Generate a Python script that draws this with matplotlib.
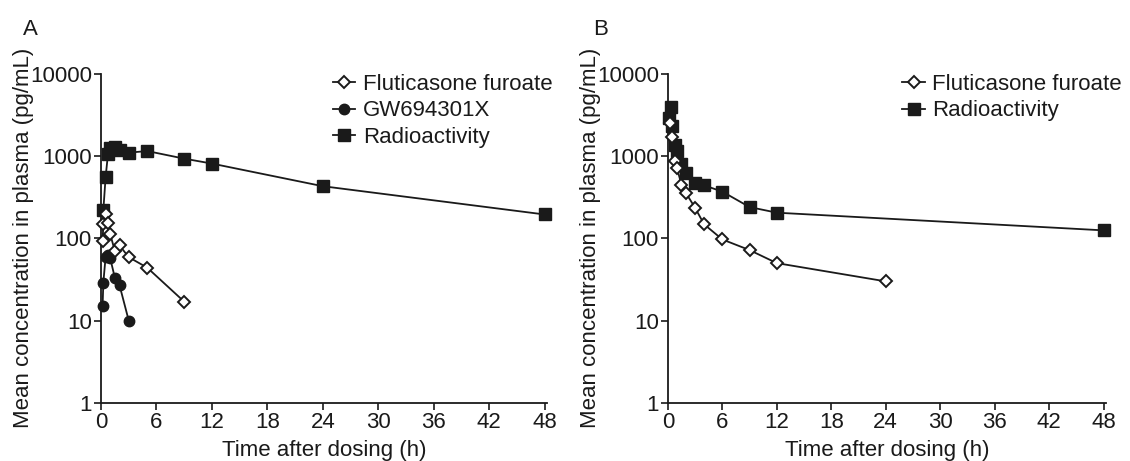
import matplotlib as mpl
mpl.use('Agg')
import matplotlib.pyplot as plt

plt.rcParams['font.family'] = ['Liberation Sans', 'DejaVu Sans']
plt.rcParams['font.size'] = 16

# panel A
a_ff_t = [0.17, 0.25, 0.5, 0.75, 1.0, 1.5, 2, 3, 5, 9]
a_ff_v = [92, 150, 195, 155, 112, 70, 82, 59, 44, 17]
a_gw_t = [0.17, 0.25, 0.5, 0.75, 1.0, 1.5, 2, 3]
a_gw_v = [15, 29, 60, 63, 57, 33, 27, 10]
a_rad_t = [0.25, 0.5, 0.75, 1.0, 1.5, 2, 3, 5, 9, 12, 24, 48]
a_rad_v = [220, 560, 1050, 1250, 1300, 1200, 1100, 1150, 930, 810, 430, 195]

# panel B
b_ff_t = [0.25, 0.5, 0.75, 1.0, 1.5, 2, 3, 4, 6, 9, 12, 24]
b_ff_v = [2550, 1700, 880, 720, 450, 355, 235, 148, 97, 72, 50, 30]
b_rad_t = [0.08, 0.33, 0.5, 0.75, 1.0, 1.5, 2, 3, 4, 6, 9, 12, 48]
b_rad_v = [2900, 4000, 2300, 1350, 1150, 800, 630, 470, 440, 370, 240, 205, 125]

xticks = [0, 6, 12, 18, 24, 30, 36, 42, 48]
yticks = [1, 10, 100, 1000, 10000]
ylabels = ['1', '10', '100', '1000', '10000']

fig = plt.figure(figsize=(11.3, 4.61), dpi=100)
axA = fig.add_axes([0.0894, 0.126, 0.395, 0.714])
axB = fig.add_axes([0.591, 0.126, 0.388, 0.714])

ink = '#1a1a1a'
ff_style = dict(color=ink, marker='D', markersize=6, markerfacecolor='white',
                markeredgecolor=ink, markeredgewidth=1.4, lw=1.3)
gw_style = dict(color=ink, marker='o', markersize=7.5, lw=1.3)
rad_style = dict(color=ink, marker='s', markersize=8, lw=1.3)

axA.plot(a_ff_t, a_ff_v, label='Fluticasone furoate', zorder=3, **ff_style)
axA.plot(a_gw_t, a_gw_v, label='GW694301X', zorder=2, **gw_style)
axA.plot(a_rad_t, a_rad_v, label='Radioactivity', zorder=2, **rad_style)

axB.plot(b_ff_t, b_ff_v, label='Fluticasone furoate', zorder=3, **ff_style)
axB.plot(b_rad_t, b_rad_v, label='Radioactivity', zorder=2, **rad_style)

for ax, lx in ((axA, 0.52), (axB, 0.535)):
    ax.set_yscale('log')
    ax.set_ylim(1, 10000)
    ax.set_xlim(0, 48.3)
    ax.set_xticks(xticks)
    ax.set_yticks(yticks)
    ax.set_yticklabels(ylabels)
    ax.minorticks_off()
    ax.spines['top'].set_visible(False)
    ax.spines['right'].set_visible(False)
    for s in ('left', 'bottom'):
        ax.spines[s].set_linewidth(1.3)
        ax.spines[s].set_color(ink)
    ax.tick_params(direction='out', length=5, width=1.2, colors=ink,
                   labelcolor=ink, pad=1.5)
    ax.set_xlabel('Time after dosing (h)', color=ink, labelpad=5)
    ax.set_ylabel('Mean concentration in plasma (pg/mL)', color=ink, labelpad=-3)
    leg = ax.legend(loc='upper left', bbox_to_anchor=(lx, 1.0), frameon=False,
                    handlelength=1.0, handletextpad=0.35, labelspacing=0.25,
                    borderpad=0, borderaxespad=0)
    for t in leg.get_texts():
        t.set_color(ink)
    for l in ax.lines:
        l.set_clip_on(False)

fig.text(0.020, 0.925, 'A', fontsize=16, color=ink)
fig.text(0.525, 0.925, 'B', fontsize=16, color=ink)

fig.savefig('out.png', dpi=100)
